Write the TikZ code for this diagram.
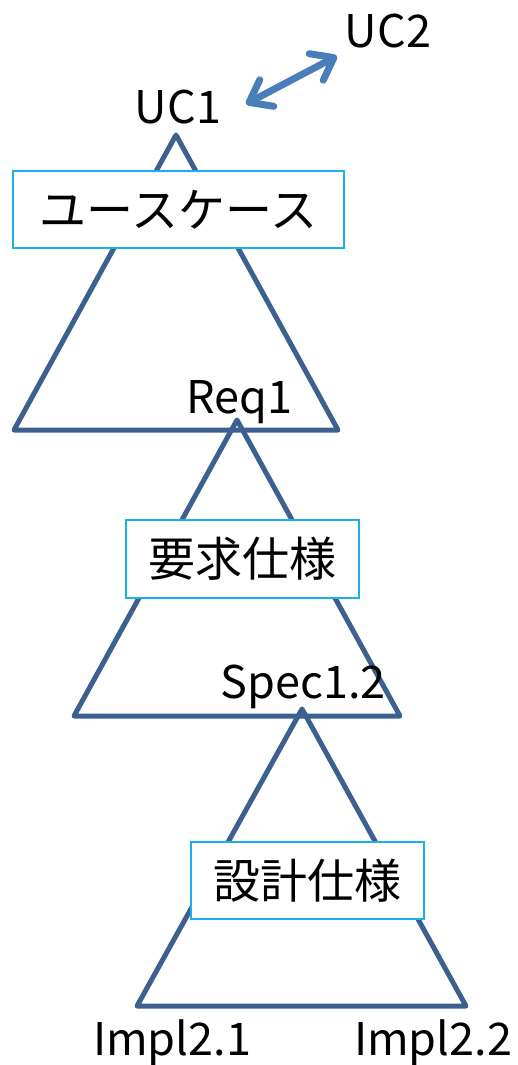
\documentclass[tikz,border=0pt]{standalone}
\usepackage{fontspec}
\newfontfamily\jp{Noto Sans CJK JP}
\usetikzlibrary{arrows.meta}
\definecolor{tric}{HTML}{3C6190}
\definecolor{boxc}{HTML}{1AB0EC}
\definecolor{arrc}{HTML}{4A7EBB}
\begin{document}
\begin{tikzpicture}[x=1pt,y=-1pt,
  tri/.style={draw=tric, line width=5pt, line join=round},
  lbl/.style={font=\jp\fontsize{45}{50}\selectfont, anchor=base, inner sep=0pt},
  titlebox/.style={draw=boxc, line width=2pt, fill=white, font=\jp\fontsize{47}{52}\selectfont, inner sep=0pt, anchor=center},
  dblarrow/.style={draw=arrc, line width=7pt, {Straight Barb[length=20pt,width=30pt,round]}-{Straight Barb[length=20pt,width=30pt,round]}}
]
\useasboundingbox (0,0) rectangle (518,1065);
% triangles
\coordinate (t1) at (176,135); \coordinate (t1l) at (14,430); \coordinate (t1r) at (338,430);
\coordinate (t2) at (237,420); \coordinate (t2l) at (74,716); \coordinate (t2r) at (400,716);
\coordinate (t3) at (302,709); \coordinate (t3l) at (137,1006); \coordinate (t3r) at (466,1006);
\draw[tri] (t1) -- (t1l) -- (t1r) -- cycle;
\draw[tri] (t2) -- (t2l) -- (t2r) -- cycle;
\draw[tri] (t3) -- (t3l) -- (t3r) -- cycle;
% boxes
\node[titlebox, minimum width=331pt, minimum height=77pt] (b1) at (178.5,209.5) {ユースケース};
\node[titlebox, minimum width=233pt, minimum height=78pt] (b2) at (242.5,559) {要求仕様};
\node[titlebox, minimum width=233pt, minimum height=77pt] (b3) at (307.5,880.5) {設計仕様};
% labels
\node[lbl] (uc1) at (178,123) {UC1};
\node[lbl] (uc2) at (388,48) {UC2};
\node[lbl] (req1) at (239,413) {Req1};
\node[lbl] (spec) at (303,698) {Spec1.2};
\node[lbl] (impl1) at (172,1055) {Impl2.1};
\node[lbl] (impl2) at (433,1055) {Impl2.2};
% arrow
\coordinate (a1) at (246,104);
\coordinate (a2) at (337,56);
\draw[dblarrow] (a1) -- (a2);
\end{tikzpicture}
\end{document}
